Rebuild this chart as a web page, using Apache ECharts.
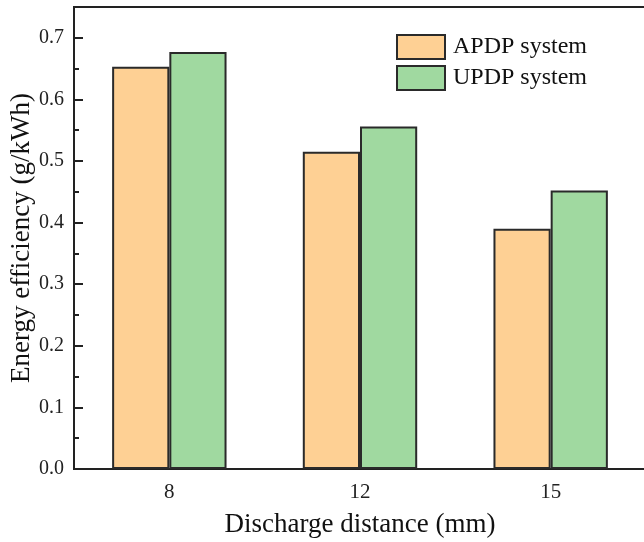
<!DOCTYPE html>
<html>
<head>
<meta charset="utf-8">
<script src="https://cdn.jsdelivr.net/npm/echarts@6/dist/echarts.min.js"></script>
<style>
  html, body { margin: 0; padding: 0; background: #fff; }
  #chart { width: 644px; height: 542px; }
</style>
</head>
<body>
<div id="chart"></div>
<script>
var distances = ['8', '12', '15'];
var apdpValues = [0.653, 0.515, 0.390];
var updpValues = [0.677, 0.556, 0.452];
var seriesNames = ['APDP system', 'UPDP system'];

var serif = '"Liberation Serif", "DejaVu Serif", serif';
var chart = echarts.init(document.getElementById('chart'));

var option = {
    animation: false,
    grid: {
        left: 74,
        right: -2,
        top: 7,
        bottom: 73,
        outerBoundsMode: 'none',
        containLabel: false,
        show: true,
        borderColor: '#222',
        borderWidth: 2
    },
    legend: {
        orient: 'vertical',
        left: 391,
        top: 29,
        itemWidth: 48,
        itemHeight: 24,
        itemGap: 5,
        icon: 'rect',
        data: seriesNames,
        textStyle: { fontFamily: serif, fontSize: 24, color: '#111', padding: [0, 0, 0, 3] }
    },
    xAxis: {
        type: 'category',
        data: distances,
        name: 'Discharge distance (mm)',
        nameLocation: 'middle',
        nameGap: 42,
        nameMoveOverlap: false,
        nameTextStyle: { fontFamily: serif, fontSize: 27, color: '#111' },
        axisLine: { lineStyle: { color: '#222', width: 2 } },
        axisTick: { show: false },
        axisLabel: { fontFamily: serif, fontSize: 21, color: '#222', margin: 13 }
    },
    yAxis: {
        type: 'value',
        min: 0,
        max: 0.75,
        interval: 0.1,
        name: 'Energy efficiency (g/kWh)',
        nameLocation: 'middle',
        nameGap: 39,
        nameMoveOverlap: false,
        nameTextStyle: { fontFamily: serif, fontSize: 27, color: '#111' },
        axisLine: { show: true, lineStyle: { color: '#222', width: 2 } },
        axisTick: { show: true, inside: true, length: 9, lineStyle: { color: '#222', width: 2 } },
        minorTick: { show: true, splitNumber: 2, length: 5, lineStyle: { color: '#222', width: 2 } },
        splitLine: { show: false },
        axisLabel: {
            fontFamily: serif, fontSize: 20, color: '#222', margin: 10,
            showMaxLabel: false,
            formatter: function (v) { return v.toFixed(1); }
        }
    },
    series: [
        {
            name: seriesNames[0],
            type: 'bar',
            data: apdpValues,
            barGap: 0,
            barCategoryGap: '40%',
            itemStyle: { color: '#FED094', borderColor: '#2a2a2a', borderWidth: 2 }
        },
        {
            name: seriesNames[1],
            type: 'bar',
            data: updpValues,
            barGap: 0,
            barCategoryGap: '40%',
            itemStyle: { color: '#A0D9A0', borderColor: '#2a2a2a', borderWidth: 2 }
        }
    ]
};
chart.setOption(option);
window.onresize = chart.resize;
</script>
</body>
</html>
